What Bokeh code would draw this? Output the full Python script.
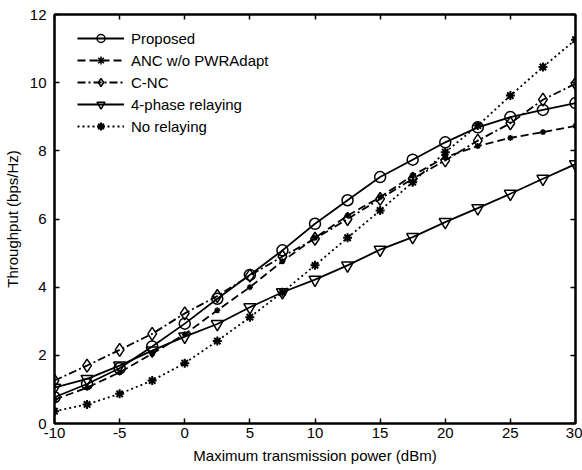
from bokeh.plotting import figure
from bokeh.models import LinearAxis, FixedTicker, Range1d, Legend, LegendItem
from bokeh.embed import file_html
from bokeh.resources import INLINE

# ---- data ----
power_dbm = [-10, -7.5, -5, -2.5, 0, 2.5, 5, 7.5, 10, 12.5, 15, 17.5, 20, 22.5, 25, 27.5, 30]
proposed = [0.77, 1.16, 1.62, 2.26, 2.93, 3.66, 4.36, 5.08, 5.86, 6.55, 7.23, 7.74, 8.25, 8.69, 8.99, 9.20, 9.40]
anc_wo_pwr = [0.70, 1.05, 1.50, 2.05, 2.62, 3.32, 4.00, 4.76, 5.45, 6.10, 6.64, 7.28, 7.81, 8.14, 8.38, 8.55, 8.73]
c_nc = [1.26, 1.70, 2.16, 2.63, 3.23, 3.74, 4.34, 4.90, 5.42, 6.00, 6.59, 7.18, 7.72, 8.30, 8.81, 9.50, 9.97]
four_phase = [1.05, 1.31, 1.70, 2.14, 2.55, 2.92, 3.41, 3.85, 4.22, 4.64, 5.10, 5.47, 5.91, 6.32, 6.74, 7.18, 7.61]
no_relaying = [0.36, 0.56, 0.87, 1.26, 1.77, 2.42, 3.12, 3.85, 4.64, 5.45, 6.25, 7.08, 7.96, 8.74, 9.62, 10.46, 11.26]

x_ticks = [-10, -5, 0, 5, 10, 15, 20, 25, 30]
x_tick_labels = ["-10", "-5", "0", "5", "10", "15", "20", "25", "30"]
y_ticks = [0, 2, 4, 6, 8, 10, 12]

FONT = "Liberation Sans"
FS = "15px"

p = figure(width=582, height=470, output_backend="svg", toolbar_location=None,
           x_range=Range1d(-10, 30), y_range=Range1d(0, 12),
           min_border_left=53, min_border_right=7, min_border_top=14, min_border_bottom=47,
           x_axis_label="Maximum transmission power (dBm)",
           y_axis_label="Throughput (bps/Hz)")
p.grid.visible = False
p.outline_line_color = "black"
p.outline_line_width = 2
p.background_fill_color = "white"
p.border_fill_color = "white"

def style_axis(ax, ticks, show_labels=True):
    ax.ticker = FixedTicker(ticks=ticks)
    ax.axis_line_color = "black"
    ax.axis_line_width = 2
    ax.major_tick_in = 5
    ax.major_tick_out = 0
    ax.major_tick_line_width = 1.5
    ax.major_tick_line_color = "black"
    ax.minor_tick_line_color = None
    ax.major_label_text_font = FONT
    ax.major_label_text_font_size = FS
    ax.major_label_text_color = "black"
    ax.axis_label_text_font = FONT
    ax.axis_label_text_font_size = FS
    ax.axis_label_text_font_style = "normal"
    ax.axis_label_text_color = "black"
    if not show_labels:
        ax.major_label_overrides = {t: "" for t in ticks}
        ax.major_label_standoff = 0

style_axis(p.xaxis[0], x_ticks)
style_axis(p.yaxis[0], y_ticks)
p.xaxis[0].major_label_overrides = dict(zip(x_ticks, x_tick_labels))
p.xaxis[0].major_label_standoff = 4
p.xaxis[0].axis_label_standoff = 6
p.yaxis[0].major_label_standoff = 8
p.yaxis[0].axis_label_standoff = 6

top_ax = LinearAxis()
style_axis(top_ax, x_ticks, show_labels=False)
p.add_layout(top_ax, "above")
right_ax = LinearAxis()
style_axis(right_ax, y_ticks, show_labels=False)
p.add_layout(right_ax, "right")

LW = 1.8
series = [
    ("Proposed", proposed, "solid", "circle", 11, 1.5),
    ("ANC w/o PWRAdapt", anc_wo_pwr, "8 4", "asterisk", 6, 1.5),
    ("C-NC", c_nc, "8 3 2 3", "diamond", 13, 1.5),
    ("4-phase relaying", four_phase, "solid", "inverted_triangle", 12, 1.5),
    ("No relaying", no_relaying, "2 3", "asterisk", 9, 2.0),
]

items = []
for label, ys, dash, marker, size, mlw in series:
    lr = p.line(power_dbm, ys, line_color="black", line_width=LW, line_dash=dash)
    sr = p.scatter(power_dbm, ys, marker=marker, size=size, line_color="black",
                   line_width=mlw, fill_color=None)
    items.append(LegendItem(label=label, renderers=[lr, sr]))

legend = Legend(items=items, location=(23, 287))
legend.glyph_width = 47
legend.glyph_height = 20
legend.label_height = 20
legend.spacing = 2
legend.padding = 0
legend.margin = 0
legend.label_standoff = 7
legend.label_text_font = FONT
legend.label_text_font_size = FS
legend.label_text_color = "black"
legend.border_line_color = None
legend.background_fill_color = "white"
legend.background_fill_alpha = 1
p.add_layout(legend, "center")

open("out.html", "w").write(file_html(p, INLINE))
